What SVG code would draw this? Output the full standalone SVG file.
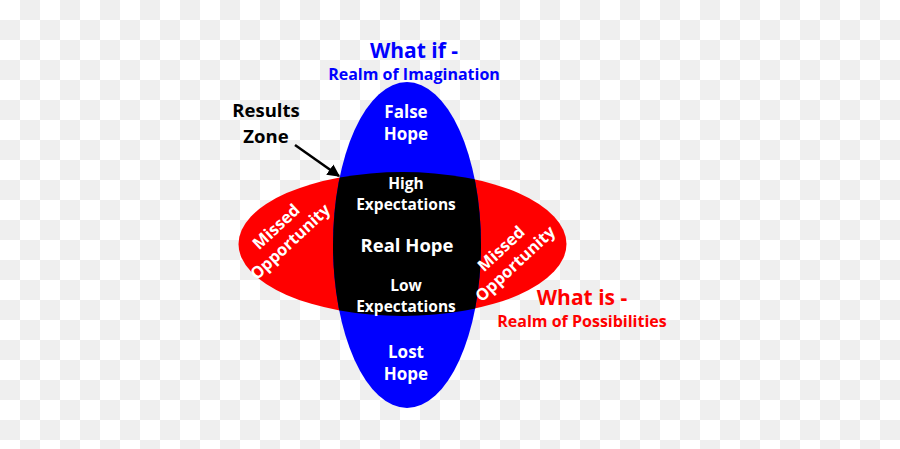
<svg xmlns="http://www.w3.org/2000/svg" width="900" height="449" viewBox="0 0 900 449">
<style>
text{font-family:"Open Sans","Liberation Sans",sans-serif;font-weight:bold;text-anchor:middle}
.w{fill:#fff}
.blue{fill:#0000ff}
.red{fill:#ff0000}
</style>
<defs>
<pattern id="chk" width="40" height="40" patternUnits="userSpaceOnUse">
<rect width="40" height="40" fill="#fff"/>
<rect x="20" y="0" width="20" height="20" fill="#efefef"/>
<rect x="0" y="20" width="20" height="20" fill="#efefef"/>
</pattern>
<clipPath id="blueClip"><ellipse cx="407" cy="245" rx="74" ry="163"/></clipPath>
<marker id="ah" viewBox="0 0 10 10" refX="9" refY="5" markerWidth="5" markerHeight="5" orient="auto"><path d="M0,0 L10,5 L0,10 Z" fill="#000"/></marker>
</defs>
<rect width="900" height="449" fill="url(#chk)"/>
<g id="realm-possibilities"><ellipse cx="402.5" cy="244" rx="164" ry="72" fill="#ff0000"/></g>
<g id="realm-imagination"><ellipse cx="407" cy="245" rx="74" ry="163" fill="#0000ff"/></g>
<g id="results-zone"><ellipse cx="402.5" cy="244" rx="164" ry="72" fill="#000" clip-path="url(#blueClip)"/></g>
<g id="connectors"><line x1="295" y1="145" x2="339" y2="176" stroke="#000" stroke-width="2.5" marker-end="url(#ah)"/></g>
<g id="title-what-if">
<text x="414" y="58" font-size="21" class="blue">What if -</text>
<text x="414" y="80" font-size="16" class="blue">Realm of Imagination</text>
</g>
<g id="label-results-zone">
<text x="266" y="117" font-size="18.5">Results</text>
<text x="266" y="143" font-size="18.5">Zone</text>
</g>
<g id="false-hope">
<text x="406" y="118" font-size="17" class="w">False</text>
<text x="406" y="140" font-size="17" class="w">Hope</text>
</g>
<g id="high-expectations">
<text x="406" y="189" font-size="15.5" class="w">High</text>
<text x="406" y="210" font-size="15.5" class="w">Expectations</text>
</g>
<g id="real-hope"><text x="407" y="252" font-size="18.5" class="w">Real Hope</text></g>
<g id="low-expectations">
<text x="406" y="291" font-size="15.5" class="w">Low</text>
<text x="406" y="312" font-size="15.5" class="w">Expectations</text>
</g>
<g id="lost-hope">
<text x="406" y="358" font-size="17" class="w">Lost</text>
<text x="406" y="380" font-size="17" class="w">Hope</text>
</g>
<g id="missed-left">
<text transform="translate(280,231) rotate(-43)" font-size="16.5" class="w">Missed</text>
<text transform="translate(294,246) rotate(-43)" font-size="16.5" class="w">Opportunity</text>
</g>
<g id="missed-right">
<text transform="translate(505,253) rotate(-43)" font-size="16.5" class="w">Missed</text>
<text transform="translate(519,268) rotate(-43)" font-size="16.5" class="w">Opportunity</text>
</g>
<g id="title-what-is">
<text x="582" y="305" font-size="21" class="red">What is -</text>
<text x="582" y="327" font-size="16" class="red">Realm of Possibilities</text>
</g>
</svg>
